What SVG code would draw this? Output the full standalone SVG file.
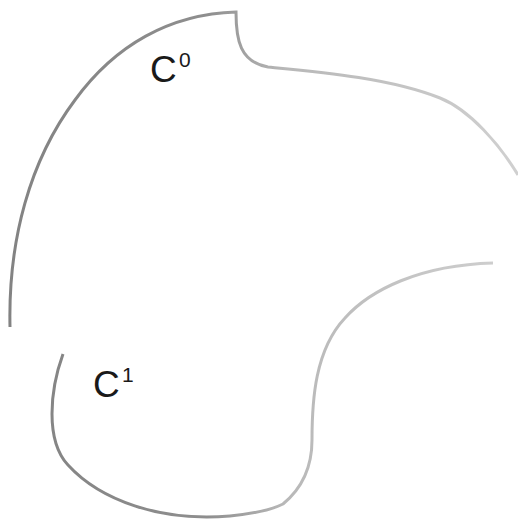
<svg xmlns="http://www.w3.org/2000/svg" width="518" height="521" viewBox="0 0 518 521">
  <style>
    .curve { fill: none; stroke-width: 3; stroke-linecap: butt; stroke: url(#g); }
    .lbl { font-family: "Liberation Sans", Arial, sans-serif; fill: #1a1a1a; }
    .main { font-size: 37px; }
    .sup { font-size: 21px; }
  </style>
  <defs>
    <linearGradient id="g" gradientUnits="userSpaceOnUse" x1="0" y1="0" x2="518" y2="0">
      <stop offset="0" stop-color="#828282"/>
      <stop offset="0.4" stop-color="#8e8e8e"/>
      <stop offset="0.55" stop-color="#b8b8b8"/>
      <stop offset="1" stop-color="#d0d0d0"/>
    </linearGradient>
  </defs>
  <rect width="518" height="521" fill="#ffffff"/>
  <g id="connectors">
    <g id="curve-c0">
      <path class="curve" d="M10,327 C8,240 30,160 75,100 C115,45 170,14 236,12 C236,40 240,62 268,67 C320,72 390,78 440,98 C470,110 500,145 518,175"/>
    </g>
    <g id="curve-c1">
      <path class="curve" d="M63,354 C50,390 45,440 68,465 C100,500 160,522 230,516 C260,513 275,508 283,504 C300,490 312,470 312,440 C312,400 315,350 345,318 C370,290 420,265 493,263"/>
    </g>
  </g>
  <g id="label-c0">
    <text class="lbl main" x="150" y="82">C</text>
    <text class="lbl sup" x="179" y="67">0</text>
  </g>
  <g id="label-c1">
    <text class="lbl main" x="93" y="397">C</text>
    <text class="lbl sup" x="122" y="382">1</text>
  </g>
</svg>
